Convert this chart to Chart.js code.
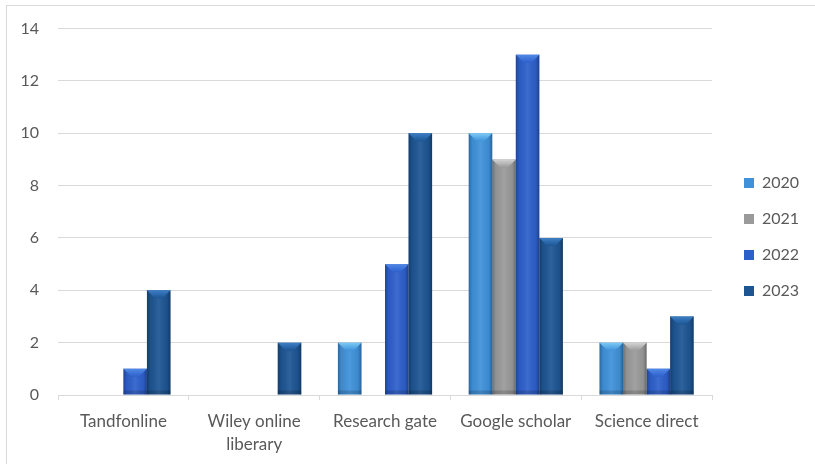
<!DOCTYPE html>
<html lang="en">
<head>
<meta charset="UTF-8">
<title>Sources by year</title>
<style>
    body {
        margin: 0;
        padding: 0;
        background: #ffffff;
        overflow: hidden;
    }
    #frame {
        position: absolute;
        left: 6px;
        top: 5px;
        width: 900px;
        height: 600px;
        border-left: 1px solid #d9d9d9;
        border-top: 1px solid #d9d9d9;
    }
    #wrap {
        position: absolute;
        left: 0;
        top: 0;
        width: 815px;
        height: 464px;
    }
</style>
</head>
<body>
<div id="frame"></div>
<div id="wrap"><canvas id="sourceChart"></canvas></div>
<script src="https://cdn.jsdelivr.net/npm/chart.js@4"></script>
<script>
// data
const categories = ['Tandfonline', ['Wiley online', 'liberary'], 'Research gate', 'Google scholar', 'Science direct'];
const years = ['2020', '2021', '2022', '2023'];
const values2020 = [0, 0, 2, 10, 2];
const values2021 = [0, 0, 0, 9, 2];
const values2022 = [1, 0, 5, 13, 1];
const values2023 = [4, 2, 10, 6, 3];
const yTicks = [0, 2, 4, 6, 8, 10, 12, 14];

// flat colour + lighter bevel colour per year
const barColors = ['#3f91da', '#9a9a9a', '#2d5fcb', '#1d5593'];
const bevelColors = ['#7ccaf6', '#d4d4d4', '#5089e6', '#3d7fc6'];

const textColor = '#595959';
const gridColor = '#d9d9d9';
const fontFamily = 'Lato, "Open Sans", Arial, sans-serif';

// Excel-like bevel drawn over each bar, using the bar elements' own geometry
const bevelPlugin = {
    id: 'bevel',
    afterDatasetsDraw(chart) {
        const ctx = chart.ctx;
        chart.data.datasets.forEach((ds, i) => {
            const meta = chart.getDatasetMeta(i);
            meta.data.forEach(bar => {
                const p = bar.getProps(['x', 'y', 'base', 'width'], true);
                const h = p.base - p.y;
                if (h < 1) return;
                const l = p.x - p.width / 2;
                const r = p.x + p.width / 2;
                ctx.save();
                // side shading
                const g = ctx.createLinearGradient(l, 0, r, 0);
                g.addColorStop(0, 'rgba(0,0,0,0.28)');
                g.addColorStop(0.15, 'rgba(0,0,0,0.05)');
                g.addColorStop(0.5, 'rgba(255,255,255,0.08)');
                g.addColorStop(0.85, 'rgba(0,0,0,0.05)');
                g.addColorStop(1, 'rgba(0,0,0,0.32)');
                ctx.fillStyle = g;
                ctx.fillRect(l, p.y, r - l, h);
                // top bevel
                const d = Math.min(8, h);
                ctx.beginPath();
                ctx.moveTo(l, p.y);
                ctx.lineTo(r, p.y);
                ctx.lineTo(r - d, p.y + d);
                ctx.lineTo(l + d, p.y + d);
                ctx.closePath();
                const tg = ctx.createLinearGradient(0, p.y, 0, p.y + d);
                tg.addColorStop(0, bevelColors[i]);
                tg.addColorStop(1, barColors[i]);
                ctx.fillStyle = tg;
                ctx.fill();
                // bottom darkening
                const bd = Math.min(4, h);
                ctx.fillStyle = 'rgba(0,0,0,0.15)';
                ctx.fillRect(l, p.base - bd, r - l, bd);
                ctx.restore();
            });
        });
    }
};

// fix legend width so the plot ends where the reference plot ends,
// then nudge the legend into place
const legendWidthPlugin = {
    id: 'legendWidth',
    beforeUpdate(chart) {
        const lg = chart.legend;
        if (lg && !lg._patched) {
            const orig = lg.fit;
            lg.fit = function () {
                orig.call(this);
                this.width = 103;
            };
            lg._patched = true;
        }
    },
    afterLayout(chart) {
        const lg = chart.legend;
        if (lg) {
            lg.left += 12;
            lg.right += 12;
            lg.top -= 9;
            lg.bottom -= 9;
        }
    }
};

const seriesValues = [values2020, values2021, values2022, values2023];

new Chart(document.getElementById('sourceChart'), {
    type: 'bar',
    data: {
        labels: categories,
        datasets: years.map((y, i) => ({
            label: y,
            data: seriesValues[i],
            backgroundColor: barColors[i],
            borderWidth: 0,
            categoryPercentage: 0.72,
            barPercentage: 1.0
        }))
    },
    options: {
        responsive: true,
        maintainAspectRatio: false,
        animation: false,
        layout: {
            padding: { top: 28, right: 0, bottom: 0, left: 0 }
        },
        plugins: {
            legend: {
                position: 'right',
                align: 'center',
                labels: {
                    boxWidth: 10,
                    boxHeight: 10,
                    padding: 20,
                    color: textColor,
                    font: { family: fontFamily, size: 16 }
                }
            },
            tooltip: { enabled: false }
        },
        scales: {
            x: {
                grid: {
                    drawOnChartArea: false,
                    drawTicks: true,
                    tickLength: 5,
                    color: gridColor,
                    offset: true
                },
                border: { color: gridColor },
                ticks: {
                    color: textColor,
                    padding: 10,
                    font: { family: fontFamily, size: 17, lineHeight: 1.35 },
                    maxRotation: 0,
                    autoSkip: false
                },
                afterFit(scale) { scale.height = 69; }
            },
            y: {
                min: 0,
                max: 14,
                afterBuildTicks(scale) { scale.ticks = yTicks.map(v => ({ value: v })); },
                grid: { color: gridColor, drawTicks: false },
                border: { display: false },
                ticks: {
                    color: textColor,
                    padding: 19,
                    font: { family: fontFamily, size: 16 }
                },
                afterFit(scale) { scale.width = 58; }
            }
        }
    },
    plugins: [bevelPlugin, legendWidthPlugin]
});
</script>
</body>
</html>
